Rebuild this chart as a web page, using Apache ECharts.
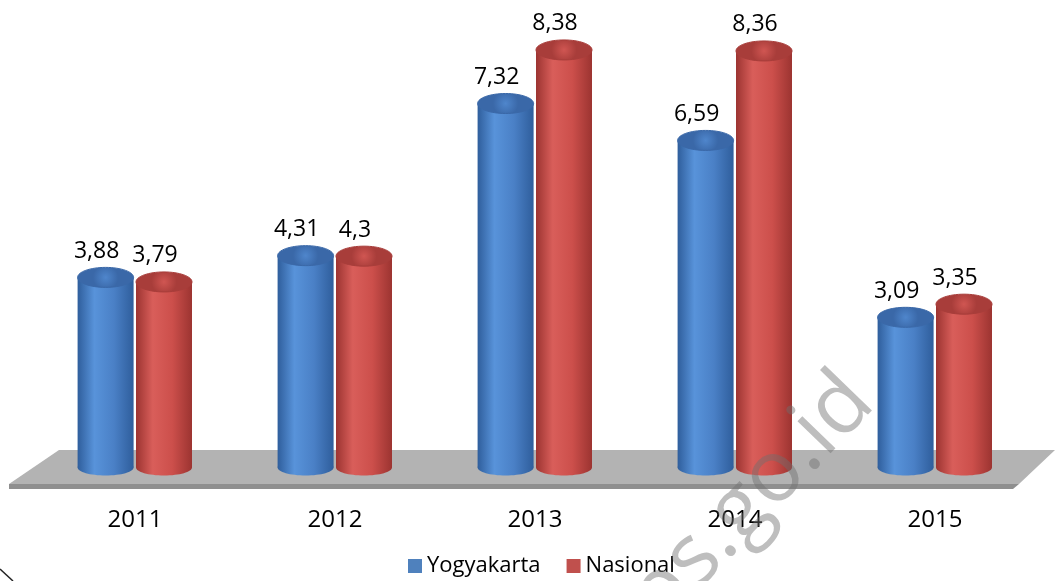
<!DOCTYPE html>
<html>
<head>
<meta charset="utf-8">
<script src="https://cdn.jsdelivr.net/npm/echarts@6/dist/echarts.min.js"></script>
<style>html,body{margin:0;padding:0;background:#fff}#c{width:1056px;height:581px}</style>
</head>
<body>
<div id="c"></div>
<script>
const categories = ['2011', '2012', '2013', '2014', '2015'];
const yogyakarta = [3.88, 4.31, 7.32, 6.59, 3.09];
const nasional = [3.79, 4.3, 8.38, 8.36, 3.35];
const seriesNames = ['Yogyakarta', 'Nasional'];

const FONT = "'Open Sans', 'Liberation Sans', sans-serif";
const palettes = [
  { base: '#4a80c6', edge: '#2f5e9c', light: '#5893da', top: '#4f86cc', topRim: '#3a68a8' },
  { base: '#cc4f4b', edge: '#9c3431', light: '#d95e5a', top: '#d05652', topRim: '#a83d3a' }
];

function fmt(v) { return String(v).replace('.', ','); }

function cylinder(si) {
  const p = palettes[si];
  return function (params, api) {
    const cat = api.value(0);
    const val = api.value(1);
    const top = api.coord([cat, val]);
    const bot = api.coord([cat, 0]);
    const band = api.size([1, 0])[0];
    const w = band * 0.28;
    const cx = top[0] + (si === 0 ? -0.147 : 0.145) * band;
    const rx = w / 2;
    const ryT = 10, ryB = 8;
    const botY = bot[1] - 6;
    const grad = new echarts.graphic.LinearGradient(0, 0, 1, 0, [
      { offset: 0, color: p.edge },
      { offset: 0.3, color: p.light },
      { offset: 0.65, color: p.base },
      { offset: 1, color: p.edge }
    ]);
    return {
      type: 'group',
      children: [
        { type: 'rect', shape: { x: cx - rx, y: top[1], width: w, height: botY - top[1] }, style: { fill: grad } },
        { type: 'ellipse', shape: { cx: cx, cy: botY, rx: rx, ry: ryB }, style: { fill: grad } },
        { type: 'ellipse', shape: { cx: cx, cy: top[1], rx: rx, ry: ryT },
          style: { fill: new echarts.graphic.RadialGradient(0.5, 0.5, 0.6, [
            { offset: 0, color: p.top }, { offset: 1, color: p.topRim }
          ]), stroke: p.topRim, lineWidth: 1 } },
        { type: 'text', x: cx - 9, y: top[1] - 26,
          style: { text: fmt(val), fill: '#000', font: '23px ' + FONT, align: 'center', verticalAlign: 'middle' } }
      ]
    };
  };
}

const chart = echarts.init(document.getElementById('c'), null, { renderer: 'canvas' });
chart.setOption({
  backgroundColor: '#fff',
  animation: false,
  grid: { left: 35, right: 21, top: 18.6, bottom: 107.5, containLabel: false },
  xAxis: {
    type: 'category', data: categories,
    axisLine: { show: false }, axisTick: { show: false },
    axisLabel: { margin: 35, fontSize: 24, color: '#000', fontFamily: FONT }
  },
  yAxis: { type: 'value', min: 0, max: 9, show: false, splitLine: { show: false } },
  legend: {
    bottom: -1, left: 403, itemWidth: 14, itemHeight: 14, itemGap: 26,
    icon: 'rect',
    textStyle: { fontSize: 22, color: '#000', fontFamily: FONT },
    data: [
      { name: 'Yogyakarta', itemStyle: { color: '#4f81bd' } },
      { name: 'Nasional', itemStyle: { color: '#c0504d' } }
    ]
  },
  graphic: [
    { type: 'polygon', z: 0, shape: { points: [[59, 450], [1055, 450], [1019, 484], [9, 484]] },
      style: { fill: '#b3b3b3' } },
    { type: 'polygon', z: 0, shape: { points: [[9, 484], [1019, 484], [1013, 489], [9, 489]] },
      style: { fill: '#8f8f8f' } },
    { type: 'text', z: 100, x: 733, y: 519, rotation: 46 * Math.PI / 180,
      style: { text: 'bps.go.id', font: '86px ' + FONT, fill: 'rgba(110,110,110,0.45)', align: 'center', verticalAlign: 'middle' } },
    { type: 'line', z: 100, shape: { x1: 0, y1: 569, x2: 13, y2: 581 },
      style: { stroke: '#222', lineWidth: 1.5 } }
  ],
  series: [
    { name: seriesNames[0], type: 'custom', z: 2, color: '#4f81bd',
      data: yogyakarta.map((v, i) => [i, v]), renderItem: cylinder(0) },
    { name: seriesNames[1], type: 'custom', z: 3, color: '#c0504d',
      data: nasional.map((v, i) => [i, v]), renderItem: cylinder(1) }
  ]
});
</script>
</body>
</html>
